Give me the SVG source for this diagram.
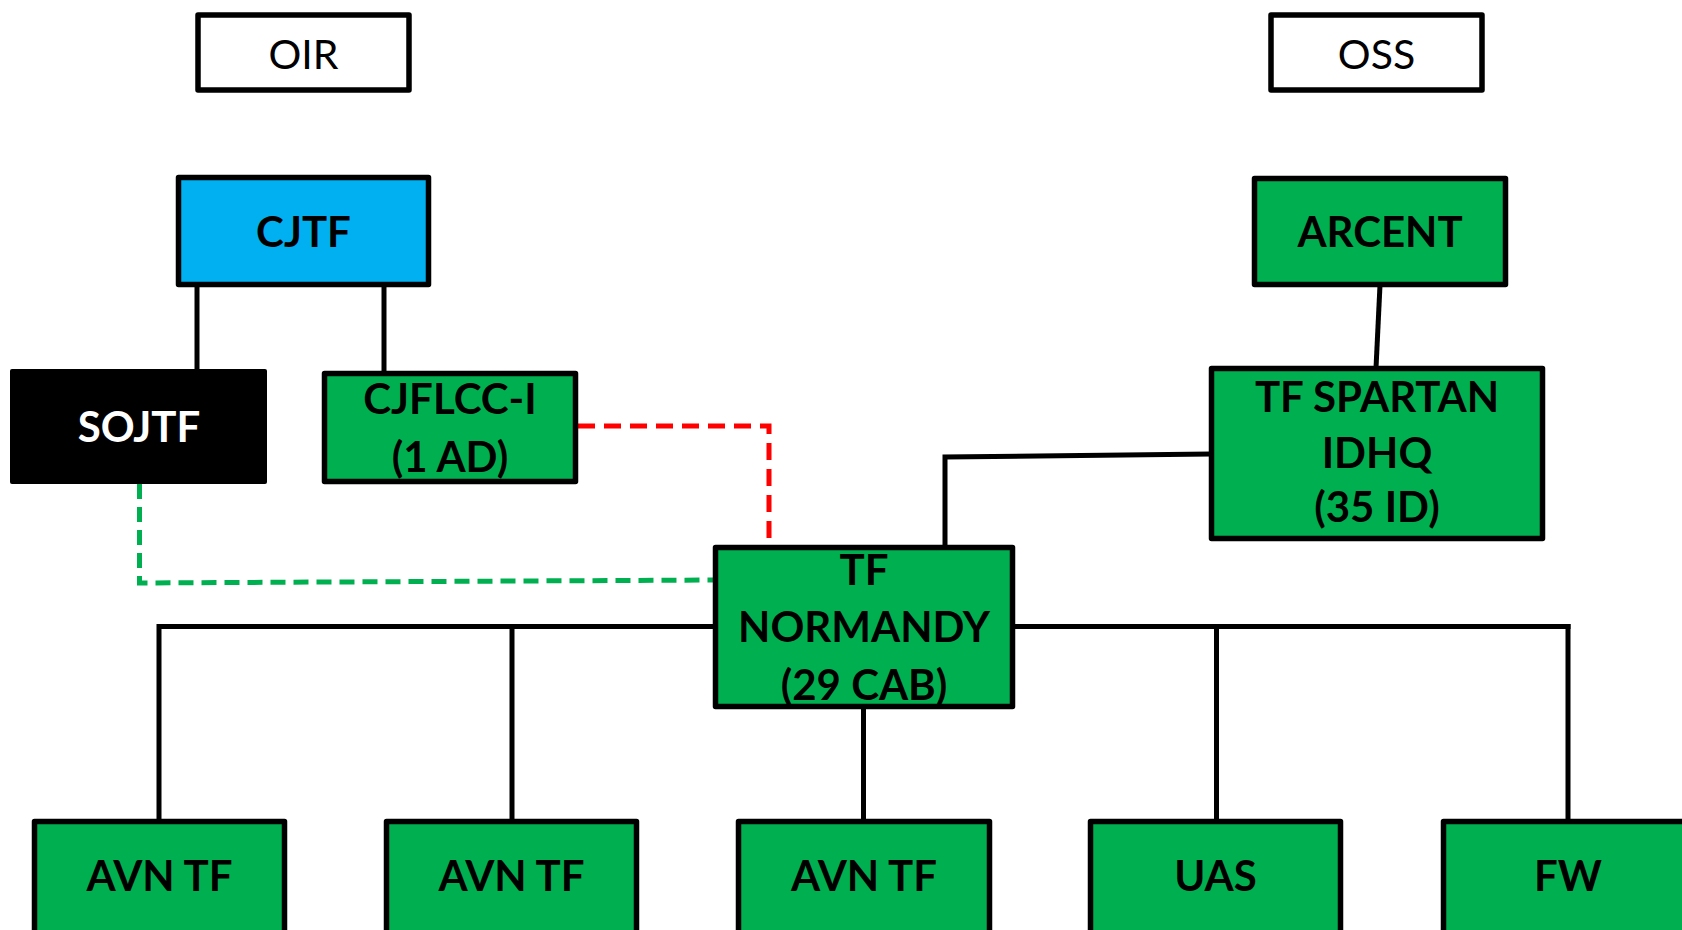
<svg xmlns="http://www.w3.org/2000/svg" width="1682" height="930" viewBox="0 0 1682 930">
<style>
.box{stroke:#000;stroke-width:5.5;stroke-linejoin:round}
.g{fill:#00B050}
.b{fill:#00B0F0}
.w{fill:#fff}
.k{fill:#000}
.t{font-family:Lato,"Open Sans","Noto Sans",sans-serif;font-weight:bold;font-size:42px;fill:#000;text-anchor:middle}
.tr{font-family:Lato,"Open Sans","Noto Sans",sans-serif;font-size:41px;fill:#000;text-anchor:middle}
.ln{stroke:#000;stroke-width:5;fill:none}
.red{stroke:#FF0000;stroke-width:5;fill:none;stroke-dasharray:17 9}
.grn{stroke:#00B050;stroke-width:5;fill:none;stroke-dasharray:15 8}
</style>
<rect width="1682" height="930" fill="#fff"/>
<g id="connectors">
<line class="ln" x1="197" y1="285" x2="197" y2="371"/>
<line class="ln" x1="384" y1="285" x2="384" y2="373"/>
<line class="ln" x1="1380" y1="285" x2="1376" y2="368"/>
<polyline class="ln" points="1211,454 945,457 945,547"/>
<line class="ln" x1="159" y1="626.5" x2="716" y2="626.5"/>
<line class="ln" x1="1012" y1="626.5" x2="1570.5" y2="626.5"/>
<line class="ln" x1="159" y1="624" x2="159" y2="822"/>
<line class="ln" x1="512" y1="624" x2="512" y2="822"/>
<line class="ln" x1="1216.5" y1="624" x2="1216.5" y2="822"/>
<line class="ln" x1="1568" y1="624" x2="1568" y2="822"/>
<line class="ln" x1="863.5" y1="707" x2="863.5" y2="822"/>
<polyline class="red" points="578,426 769,426 769,547"/>
<polyline class="grn" points="139.5,484 139.5,583 714,580"/>
</g>
<g id="oir"><rect class="box w" x="198" y="15" width="211" height="75" stroke-width="4.5"/><text class="tr" x="303.5" y="69">OIR</text></g>
<g id="oss"><rect class="box w" x="1271" y="15" width="211" height="75" stroke-width="4.5"/><text class="tr" x="1376.5" y="69">OSS</text></g>
<g id="cjtf"><rect class="box b" x="178.5" y="177.5" width="250" height="107"/><text class="t" x="303.5" y="247">CJTF</text></g>
<g id="arcent"><rect class="box g" x="1254.5" y="178.5" width="251" height="106"/><text class="t" x="1380" y="247">ARCENT</text></g>
<g id="sojtf"><rect class="k" x="10" y="369" width="257" height="115" rx="2"/><text class="t" x="139" y="442" style="fill:#fff">SOJTF</text></g>
<g id="cjflcc"><rect class="box g" x="324.5" y="373.5" width="251" height="108"/><text class="t" x="450" y="414">CJFLCC-I</text><text class="t" x="450" y="472">(1 AD)</text></g>
<g id="spartan"><rect class="box g" x="1211.5" y="368.5" width="331" height="170"/><text class="t" x="1377" y="412">TF SPARTAN</text><text class="t" x="1377" y="468">IDHQ</text><text class="t" x="1377" y="522">(35 ID)</text></g>
<g id="normandy"><rect class="box g" x="715.5" y="547.5" width="297" height="159"/><text class="t" x="864" y="585">TF</text><text class="t" x="864" y="642">NORMANDY</text><text class="t" x="864" y="700">(29 CAB)</text></g>
<g id="avn1"><rect class="box g" x="34.5" y="821.5" width="250" height="120"/><text class="t" x="159.5" y="891">AVN TF</text></g>
<g id="avn2"><rect class="box g" x="386.5" y="821.5" width="250" height="120"/><text class="t" x="511.5" y="891">AVN TF</text></g>
<g id="avn3"><rect class="box g" x="738.5" y="821.5" width="251" height="120"/><text class="t" x="864" y="891">AVN TF</text></g>
<g id="uas"><rect class="box g" x="1090.5" y="821.5" width="250" height="120"/><text class="t" x="1215.5" y="891">UAS</text></g>
<g id="fw"><rect class="box g" x="1443.5" y="821.5" width="250" height="120"/><text class="t" x="1568" y="891">FW</text></g>
</svg>
